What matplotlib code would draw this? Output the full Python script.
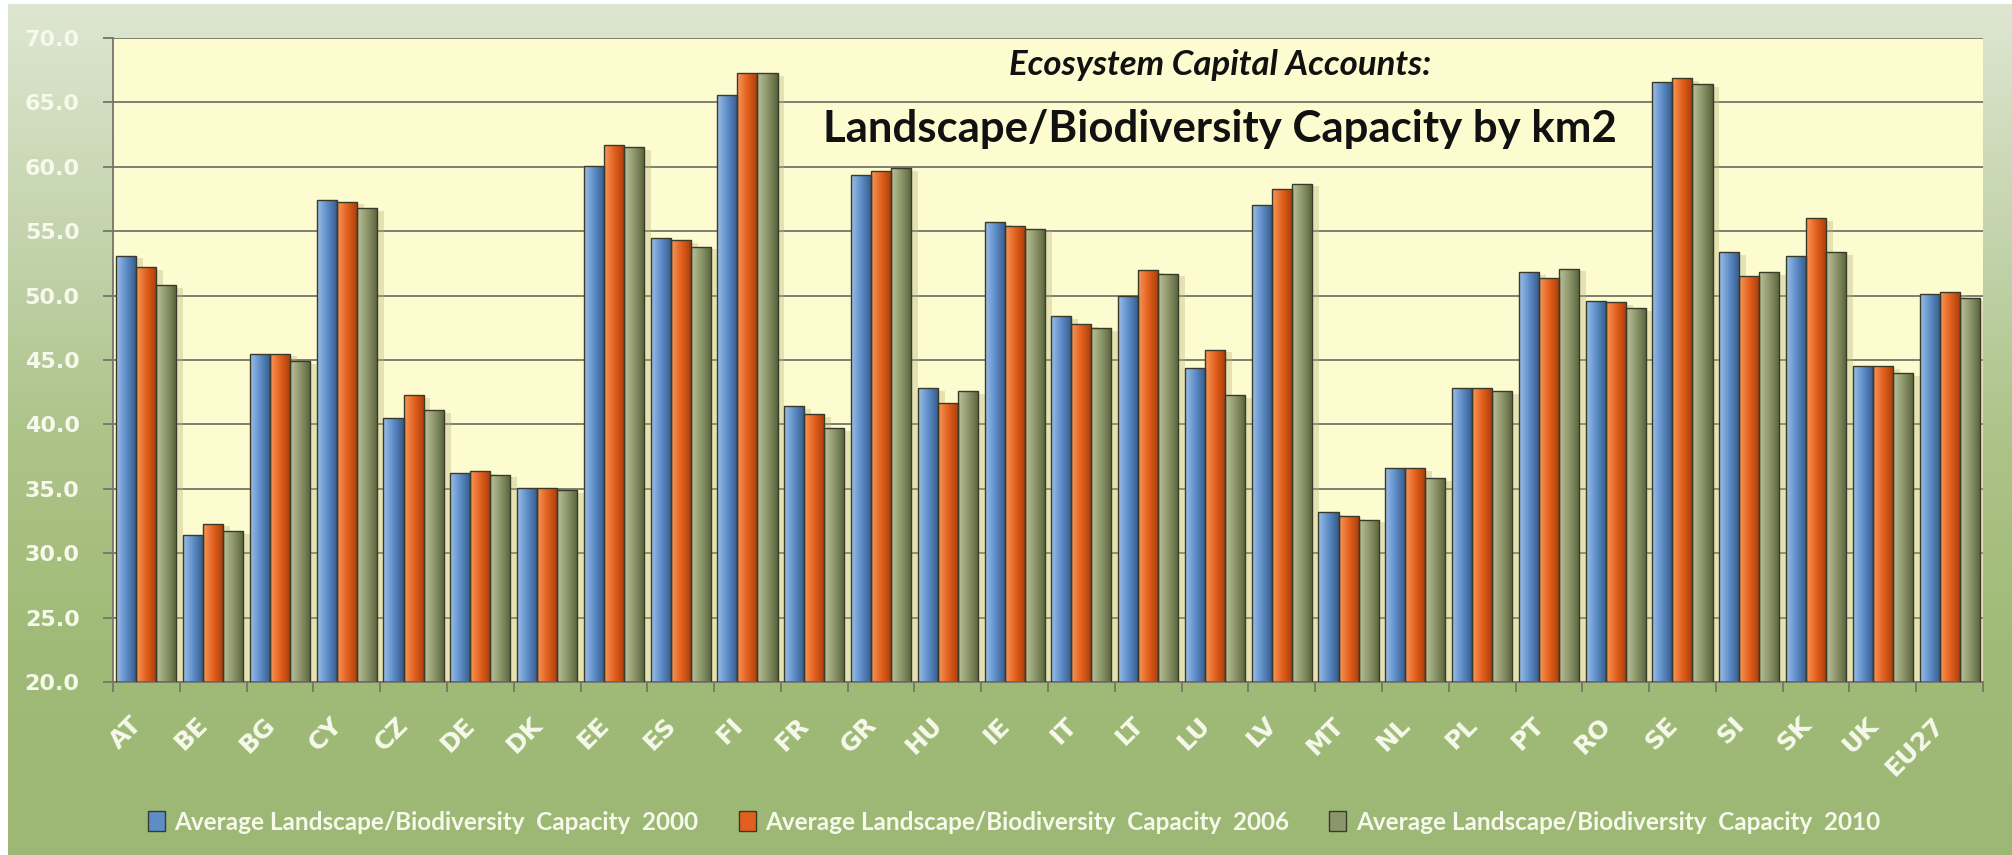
import numpy as np
import matplotlib
matplotlib.use("Agg")
import matplotlib.pyplot as plt
from matplotlib.colors import LinearSegmentedColormap
from matplotlib.patches import Rectangle
import matplotlib.patheffects as pe

# ---------------- data ----------------
countries = ["AT", "BE", "BG", "CY", "CZ", "DE", "DK", "EE", "ES", "FI", "FR", "GR",
             "HU", "IE", "IT", "LT", "LU", "LV", "MT", "NL", "PL", "PT", "RO", "SE",
             "SI", "SK", "UK", "EU27"]
cap_2000 = [53.1, 31.4, 45.5, 57.4, 40.5, 36.2, 35.1, 60.1, 54.5, 65.6, 41.4, 59.4,
            42.8, 55.7, 48.4, 50.0, 44.4, 57.0, 33.2, 36.6, 42.8, 51.8, 49.6, 66.6,
            53.4, 53.1, 44.5, 50.1]
cap_2006 = [52.2, 32.3, 45.5, 57.3, 42.3, 36.4, 35.1, 61.7, 54.3, 67.3, 40.8, 59.7,
            41.7, 55.4, 47.8, 52.0, 45.8, 58.3, 32.9, 36.6, 42.8, 51.4, 49.5, 66.9,
            51.5, 56.0, 44.5, 50.3]
cap_2010 = [50.8, 31.7, 44.9, 56.8, 41.1, 36.1, 34.9, 61.5, 53.8, 67.3, 39.7, 59.9,
            42.6, 55.2, 47.5, 51.7, 42.3, 58.7, 32.6, 35.8, 42.6, 52.1, 49.0, 66.4,
            51.8, 53.4, 44.0, 49.8]
series_labels = ["Average Landscape/Biodiversity  Capacity  2000",
                 "Average Landscape/Biodiversity  Capacity  2006",
                 "Average Landscape/Biodiversity  Capacity  2010"]
y_ticks = [20, 25, 30, 35, 40, 45, 50, 55, 60, 65, 70]
title_top = "Ecosystem Capital Accounts:"
title_main = "Landscape/Biodiversity Capacity by km2"

# ---------------- style ----------------
FONT = "Lato"
TICKFONT = "DejaVu Sans"
plt.rcParams["font.family"] = [FONT, "DejaVu Sans"]

grad_colors = [
    ["#9cc0ea", "#5d8cc6", "#34598a"],   # blue
    ["#f8985a", "#e2601e", "#a83c08"],   # orange
    ["#bcc29a", "#8d966a", "#58623a"],   # olive
]
mid_colors = ["#5d8cc6", "#e2601e", "#8d966a"]
edge_col = "#3a3a2a"
grid_col = "#75756a"
txt_col = "#f6f9ec"

W, H = 2012, 855
fig = plt.figure(figsize=(W / 100, H / 100), dpi=100)
fig.patch.set_facecolor("white")

# background gradient
bg = fig.add_axes([8 / W, 0, 1 - 8 / W, 1 - 4 / H])
bg.axis("off")
cmap_bg = LinearSegmentedColormap.from_list(
    "bg", ["#dee6d1", "#c6d5b0", "#adc48a", "#a0bb77", "#9db874"])
bg.imshow(np.linspace(0, 1, 256).reshape(-1, 1), aspect="auto", cmap=cmap_bg,
          extent=[0, 1, 0, 1], origin="upper")
bg.set_xlim(0, 1)
bg.set_ylim(0, 1)

ax = fig.add_axes([113 / W, 1 - 682 / H, 1870 / W, 644 / H])
ax.set_facecolor("#fdfcd0")

x = np.arange(len(countries))
bw = 0.3
series = [cap_2000, cap_2006, cap_2010]
handles = []
for i, vals in enumerate(series):
    pos = x + (i - 1) * bw
    bars = ax.bar(pos, np.array(vals) - 20, bottom=20, width=bw,
                  color=mid_colors[i], edgecolor="none", zorder=2,
                  path_effects=[pe.SimplePatchShadow(offset=(5, -2), shadow_rgbFace="#b8b27a",
                                                     alpha=0.35), pe.Normal()])
    cm = LinearSegmentedColormap.from_list(f"g{i}", grad_colors[i])
    for r in bars:
        x0, w, y0, h = r.get_x(), r.get_width(), r.get_y(), r.get_height()
        im = ax.imshow(np.linspace(0, 1, 64).reshape(1, -1), cmap=cm, aspect="auto",
                       extent=[x0, x0 + w, y0, y0 + h], zorder=2.1, interpolation="bilinear")
        im.set_clip_path(r)
    ax.bar(pos, np.array(vals) - 20, bottom=20, width=bw, fill=False,
           edgecolor=edge_col, linewidth=1.0, zorder=3)
    handles.append(Rectangle((0, 0), 1, 1, facecolor=mid_colors[i], edgecolor=edge_col, linewidth=1.0))

ax.set_xlim(-0.5, len(countries) - 0.5)
ax.set_ylim(20, 70)

ax.set_yticks(y_ticks)
ax.set_yticklabels([f"{v:.1f}" for v in y_ticks], fontsize=16, fontweight="bold",
                   color=txt_col, family=TICKFONT)
ax.grid(axis="y", color=grid_col, linewidth=1.3, zorder=1)
ax.set_axisbelow(True)
ax.tick_params(axis="y", length=7, width=1.3, color=grid_col, pad=17, direction="out")

ax.set_xticks(x)
ax.set_xticklabels(countries, rotation=45, ha="right", va="top", fontsize=18,
                   fontweight="bold", color=txt_col, family=TICKFONT)
ax.tick_params(axis="x", which="major", length=0, pad=22)
ax.set_xticks(np.arange(-0.5, len(countries), 1), minor=True)
ax.tick_params(axis="x", which="minor", length=7, width=1.3, color=grid_col, direction="out")

for s in ["top", "right"]:
    ax.spines[s].set_visible(False)
for s in ["left", "bottom"]:
    ax.spines[s].set_color(grid_col)
    ax.spines[s].set_linewidth(1.3)

# titles
fig.text(1220 / W, 1 - 65 / H, title_top, ha="center", va="center", fontsize=25,
         fontweight="bold", fontstyle="italic", color="#111111")
fig.text(1220 / W, 1 - 129 / H, title_main, ha="center", va="center", fontsize=31.5,
         fontweight="bold", color="#111111")

# legend
fig.legend(handles, series_labels, loc="center", bbox_to_anchor=(1014 / W, 1 - 822 / H),
           ncol=3, frameon=False, prop={"family": FONT, "size": 17.5, "weight": "bold"},
           labelcolor=txt_col, handlelength=0.7, handleheight=0.85, handletextpad=0.4,
           columnspacing=1.65)

fig.savefig("out.png", dpi=100)
